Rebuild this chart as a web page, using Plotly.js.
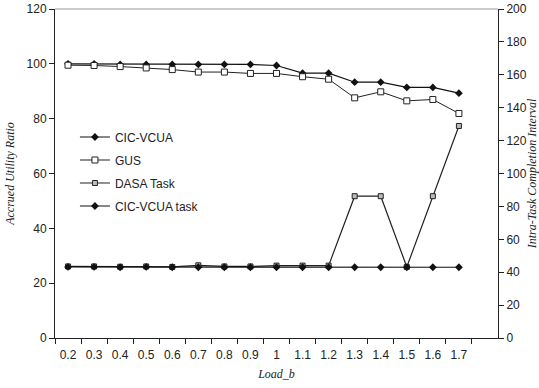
<!DOCTYPE html>
<html>
<head>
<meta charset="utf-8">
<script src="https://cdn.plot.ly/plotly-3.0.1.min.js"></script>
<style>
  html, body { margin: 0; padding: 0; background: #fff; }
  #chart { width: 539px; height: 388px; }
</style>
</head>
<body>
<div id="chart"></div>
<script>
// Load levels on the category axis
const loads = ["0.2", "0.3", "0.4", "0.5", "0.6", "0.7", "0.8", "0.9", "1", "1.1", "1.2", "1.3", "1.4", "1.5", "1.6", "1.7"];

// Accrued utility ratio (left axis)
const cicVcua = [100, 100, 99.8, 99.8, 99.8, 99.8, 99.8, 99.8, 99.4, 96.6, 96.6, 93.3, 93.3, 91.4, 91.4, 89.3];
const gus     = [99.5, 99.4, 99.0, 98.5, 97.9, 97.0, 97.0, 96.5, 96.5, 95.3, 94.4, 87.6, 89.8, 86.5, 87.0, 81.9];

// Intra-task completion interval (right axis)
const dasaTask    = [43.5, 43.5, 43.3, 43.5, 43.2, 44.2, 43.5, 43.5, 44.0, 44.0, 44.0, 86.2, 86.2, 43.2, 86.2, 128.9];
const cicVcuaTask = [43.2, 43.2, 43.0, 43.2, 43.0, 43.0, 43.0, 43.0, 43.0, 43.0, 43.0, 43.0, 43.0, 43.0, 43.0, 43.0];

const lineStyle = { color: "#111", width: 1.2 };

const traces = [
  {
    name: "CIC-VCUA", x: loads, y: cicVcua, yaxis: "y",
    mode: "lines+markers", line: lineStyle, legendgroup: "a",
    marker: { symbol: "diamond", size: 6, color: "#111" }
  },
  {
    name: "GUS", x: loads, y: gus, yaxis: "y",
    mode: "lines+markers", line: { color: "#222", width: 1 }, legendgroup: "b",
    marker: { symbol: "square", size: 6, color: "#fff", line: { color: "#222", width: 1 } }
  },
  {
    name: "DASA Task", x: loads, y: dasaTask, yaxis: "y2",
    mode: "lines+markers", line: { color: "#222", width: 1.2 }, legendgroup: "c",
    marker: { symbol: "square", size: 5, color: "#bbb", line: { color: "#222", width: 1 } }
  },
  {
    name: "CIC-VCUA task", x: loads, y: cicVcuaTask, yaxis: "y2",
    mode: "lines+markers", line: lineStyle, legendgroup: "d",
    marker: { symbol: "diamond", size: 6, color: "#111" }
  }
];

const tickFont = { family: "Liberation Sans, Arial, sans-serif", size: 12, color: "#222" };
const titleFont = { family: "Liberation Serif, Times New Roman, serif", size: 12, color: "#222" };

const layout = {
  width: 539,
  height: 388,
  margin: { l: 55, r: 41, t: 9, b: 50 },
  paper_bgcolor: "#fff",
  plot_bgcolor: "#fff",
  showlegend: true,
  legend: {
    x: 0.045, y: 0.655, xanchor: "left", yanchor: "top",
    font: { family: "Liberation Sans, Arial, sans-serif", size: 12, color: "#222" },
    bgcolor: "rgba(0,0,0,0)", tracegroupgap: 4, itemwidth: 30
  },
  xaxis: {
    type: "category",
    categoryorder: "array",
    categoryarray: loads,
    range: [-0.5, 16.5],
    tickson: "boundaries",
    ticks: "outside", ticklen: 5, tickcolor: "#222",
    ticklabelstandoff: 6,
    showline: true, linecolor: "#222", linewidth: 1,
    showgrid: false, zeroline: false,
    tickfont: tickFont,
    title: { text: "<i>Load_b</i>", font: titleFont, standoff: 8 }
  },
  yaxis: {
    range: [0, 120], dtick: 20,
    ticks: "outside", ticklen: 5, tickcolor: "#222",
    showline: true, linecolor: "#222", linewidth: 1,
    showgrid: false, zeroline: false,
    tickfont: tickFont,
    title: { text: "<i>Accrued Utility Ratio</i>", font: titleFont, standoff: 9 }
  },
  yaxis2: {
    overlaying: "y", side: "right",
    range: [0, 200], dtick: 20,
    ticks: "outside", ticklen: 5, tickcolor: "#222",
    showline: true, linecolor: "#222", linewidth: 1,
    showgrid: false, zeroline: false,
    tickfont: tickFont,
    title: { text: "<i>Intra-Task Completion Interval</i>", font: titleFont, standoff: 11 }
  },
  shapes: [
    { type: "line", xref: "paper", yref: "paper", x0: 0, x1: 1, y0: 1, y1: 1,
      line: { color: "#999", width: 1 } }
  ]
};

Plotly.newPlot("chart", traces, layout, { displayModeBar: false, staticPlot: true });
</script>
</body>
</html>
